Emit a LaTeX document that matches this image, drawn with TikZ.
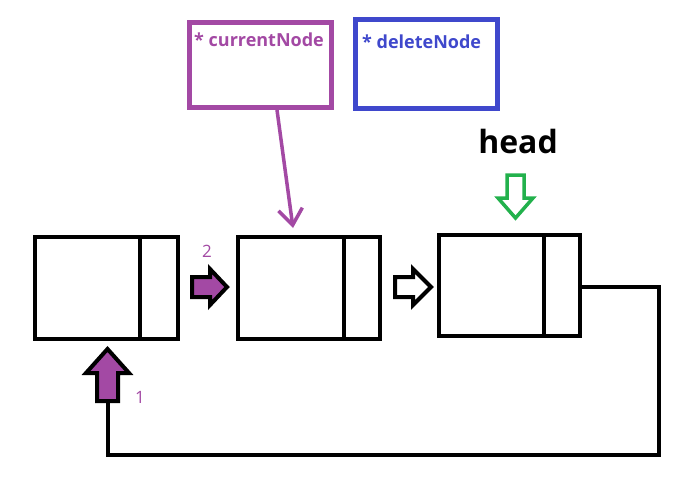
\documentclass[tikz,border=0pt]{standalone}
\usepackage{fontspec}
\setmainfont{Open Sans}
\usetikzlibrary{arrows.meta}
\definecolor{ppurple}{HTML}{A349A4}
\definecolor{pblue}{HTML}{3F48CC}
\definecolor{pgreen}{HTML}{22B14C}
\tikzset{
  listbox/.style={draw=black, line width=4pt, minimum width=143pt, minimum height=102pt, inner sep=0pt},
  ptrbox/.style={line width=5pt, minimum width=142pt, minimum height=87pt, inner sep=0pt},
  fatarrow/.style={line width=4pt, line join=miter},
  linkline/.style={draw=black, line width=4pt, line join=miter},
  lbl/.style={text=ppurple, font=\fontsize{17}{17}\selectfont, inner sep=0pt},
  ptrtxt/.style={anchor=west, font=\fontsize{18}{18}\selectfont\bfseries, inner sep=0pt}
}
\begin{document}
\begin{tikzpicture}[x=1pt,y=-1pt]
\useasboundingbox[fill=white] (0,0) rectangle (695,480);
% list nodes
\node[listbox] (n1) at (106.5,288) {};
\node[listbox, minimum width=142pt] (n2) at (309,288) {};
\node[listbox, minimum width=141pt, minimum height=101pt] (n3) at (509.5,285.5) {};
\draw[line width=4pt] (n1.north east) ++(-40,0) -- ++(0,102);
\draw[line width=4pt] (n2.north east) ++(-38,0) -- ++(0,102);
\draw[line width=4pt] (n3.north east) ++(-38,0) -- ++(0,101);
% pointer boxes
\node[ptrbox, draw=ppurple, minimum height=85pt] (cur) at (260.5,65) {};
\node[ptrbox, draw=pblue, minimum height=89pt] (del) at (426.5,64) {};
\node[ptrtxt, text=ppurple] (curtxt) at (194,40) {* currentNode};
\node[ptrtxt, text=pblue] (deltxt) at (362,42) {* deleteNode};
% head label
\node[font=\fontsize{32}{32}\selectfont\bfseries, inner sep=0pt] (head) at (518,141) {head};
% pointer arrow from currentNode
\coordinate (curtip) at (293,228);
\draw[ppurple, line width=3.5pt, -{Straight Barb[length=16pt,width=24pt]}] (cur.south -| 277,0) -- (curtip);
% fat arrows
\draw[fatarrow, fill=ppurple] (192,277) -- (210,277) -- (210,269) -- (227,287) -- (210,305) -- (210,297) -- (192,297) -- cycle;
\draw[fatarrow, fill=white] (395,277) -- (413,277) -- (413,269) -- (431,287) -- (413,305) -- (413,297) -- (395,297) -- cycle;
\draw[fatarrow, fill=ppurple] (97,401) -- (97,373) -- (86,373) -- (107.5,349) -- (129,373) -- (118,373) -- (118,401) -- cycle;
\draw[pgreen, line width=3.5pt, line join=miter, fill=white] (507,175) -- (524,175) -- (524,198) -- (533,198) -- (515.5,218) -- (498,198) -- (507,198) -- cycle;
% loop back link
\coordinate (arr1bot) at (107.5,401);
\draw[linkline] (n3.east |- 0,287) -- (659,287) -- (659,455) -- (107.5,455) -- (arr1bot);
% labels
\node[lbl] (l1) at (140,397) {1};
\node[lbl] (l2) at (207,251) {2};
\end{tikzpicture}
\end{document}
